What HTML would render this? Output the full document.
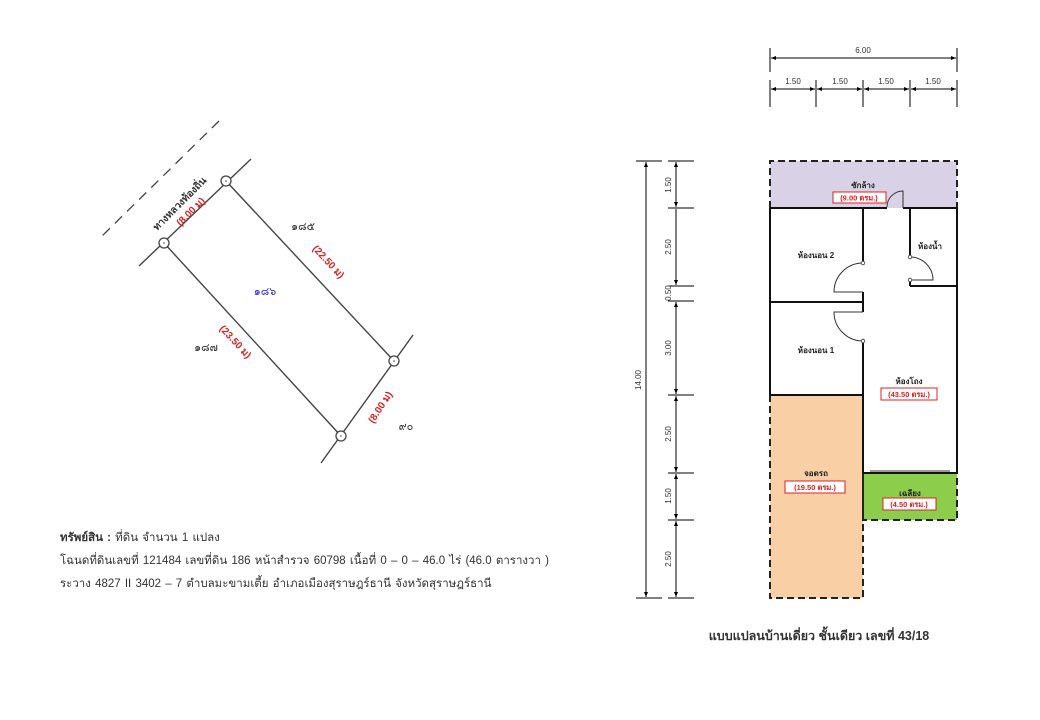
<!DOCTYPE html>
<html><head><meta charset="utf-8"><style>
body{margin:0;background:#fff;width:1040px;height:720px;overflow:hidden}
svg{display:block;font-family:"Liberation Sans","Noto Sans CJK SC",sans-serif}
</style></head><body>
<svg width="1040" height="720" viewBox="0 0 1040 720" xmlns="http://www.w3.org/2000/svg">
<defs>
<marker id="a" viewBox="0 0 10 10" refX="10" refY="5" markerWidth="7" markerHeight="5" orient="auto-start-reverse"><path d="M0,1 L10,5 L0,9 z" fill="#000"/></marker>
</defs>
<!-- plot -->
<line x1="219" y1="121" x2="100" y2="238" stroke="#444" stroke-width="1.3" stroke-dasharray="10,7"/>
<g stroke="#444" stroke-width="1.4" fill="none">
<line x1="251" y1="159" x2="139" y2="266"/>
<line x1="413" y1="335" x2="321" y2="463"/>
<line x1="226" y1="181" x2="394" y2="361"/>
<line x1="164" y1="243" x2="341" y2="436"/>
</g>
<g fill="#fff" stroke="#444" stroke-width="1.3">
<circle cx="226" cy="181" r="5"/><circle cx="164" cy="243" r="5"/><circle cx="394" cy="361" r="5"/><circle cx="341" cy="436" r="5"/>
</g>
<g fill="#444"><circle cx="226" cy="181" r="0.8"/><circle cx="164" cy="243" r="0.8"/><circle cx="394" cy="361" r="0.8"/><circle cx="341" cy="436" r="0.8"/></g>
<g font-size="10" font-weight="bold">
<text x="0" y="0" transform="translate(182,206) rotate(-45)" text-anchor="middle" fill="#333">ทางหลวงท้องถิ่น</text>
<text x="0" y="0" transform="translate(193,214) rotate(-45)" text-anchor="middle" fill="#e02020">(8.00 ม)</text>
<text x="0" y="0" transform="translate(326,264) rotate(47)" text-anchor="middle" fill="#e02020">(22.50 ม)</text>
<text x="0" y="0" transform="translate(233,344) rotate(47)" text-anchor="middle" fill="#e02020">(23.50 ม)</text>
<text x="0" y="0" transform="translate(383,409) rotate(-57)" text-anchor="middle" fill="#e02020">(8.00 ม)</text>
</g>
<g font-size="11" fill="#333">
<text x="303" y="230" text-anchor="middle">๑๘๕</text>
<text x="265" y="295" text-anchor="middle" fill="#3030d0">๑๘๖</text>
<text x="206" y="351" text-anchor="middle">๑๘๗</text>
<text x="406" y="430" text-anchor="middle">๙๐</text>
</g>
<g font-size="11.5" fill="#333" word-spacing="1">
<text x="60" y="541"><tspan font-weight="bold">ทรัพย์สิน  :</tspan>  ที่ดิน จำนวน 1 แปลง</text>
<text x="60" y="564">โฉนดที่ดินเลขที่  121484  เลขที่ดิน  186  หน้าสำรวจ  60798  เนื้อที่  0 – 0 – 46.0 ไร่ (46.0 ตารางวา )</text>
<text x="60" y="587">ระวาง  4827 II 3402 – 7   ตำบลมะขามเตี้ย  อำเภอเมืองสุราษฎร์ธานี  จังหวัดสุราษฎร์ธานี</text>
</g>
<!-- dimensions top -->
<g stroke="#000" stroke-width="1">
<line x1="770" y1="48" x2="770" y2="72"/><line x1="957" y1="48" x2="957" y2="72"/>
<line x1="771" y1="58" x2="956" y2="58" marker-start="url(#a)" marker-end="url(#a)"/>
<line x1="770" y1="80" x2="770" y2="107"/><line x1="816" y1="80" x2="816" y2="107"/><line x1="863" y1="80" x2="863" y2="107"/><line x1="910" y1="80" x2="910" y2="107"/><line x1="957" y1="80" x2="957" y2="107"/>
<line x1="771" y1="89" x2="815" y2="89" marker-start="url(#a)" marker-end="url(#a)"/>
<line x1="817" y1="89" x2="862" y2="89" marker-start="url(#a)" marker-end="url(#a)"/>
<line x1="864" y1="89" x2="909" y2="89" marker-start="url(#a)" marker-end="url(#a)"/>
<line x1="911" y1="89" x2="956" y2="89" marker-start="url(#a)" marker-end="url(#a)"/>
<!-- left -->
<line x1="636" y1="161" x2="662" y2="161"/><line x1="636" y1="598" x2="662" y2="598"/>
<line x1="646" y1="162" x2="646" y2="597" marker-start="url(#a)" marker-end="url(#a)"/>
<line x1="668" y1="161" x2="694" y2="161"/><line x1="668" y1="208" x2="694" y2="208"/><line x1="668" y1="286" x2="694" y2="286"/><line x1="668" y1="301" x2="694" y2="301"/><line x1="668" y1="395" x2="694" y2="395"/><line x1="668" y1="473" x2="694" y2="473"/><line x1="668" y1="520" x2="694" y2="520"/><line x1="668" y1="598" x2="694" y2="598"/>
<line x1="676" y1="162" x2="676" y2="207" marker-start="url(#a)" marker-end="url(#a)"/>
<line x1="676" y1="209" x2="676" y2="285" marker-end="url(#a)"/>
<line x1="676" y1="302" x2="676" y2="394" marker-start="url(#a)" marker-end="url(#a)"/>
<line x1="676" y1="396" x2="676" y2="472" marker-start="url(#a)" marker-end="url(#a)"/>
<line x1="676" y1="474" x2="676" y2="519" marker-start="url(#a)" marker-end="url(#a)"/>
<line x1="676" y1="521" x2="676" y2="597" marker-start="url(#a)" marker-end="url(#a)"/>
</g>
<g font-size="8" fill="#333" text-anchor="middle">
<text x="863" y="53">6.00</text>
<text x="793" y="84">1.50</text><text x="840" y="84">1.50</text><text x="886" y="84">1.50</text><text x="933" y="84">1.50</text>
<text transform="translate(671,185) rotate(-90)">1.50</text>
<text transform="translate(671,247) rotate(-90)">2.50</text>
<text transform="translate(671,293) rotate(-90)">0.50</text>
<text transform="translate(671,348) rotate(-90)">3.00</text>
<text transform="translate(671,434) rotate(-90)">2.50</text>
<text transform="translate(671,496) rotate(-90)">1.50</text>
<text transform="translate(671,559) rotate(-90)">2.50</text>
<text transform="translate(641,380) rotate(-90)">14.00</text>
</g>
<!-- rooms -->
<rect x="770" y="161" width="187" height="47" fill="#d9d2e6"/>
<rect x="770" y="395" width="93" height="203" fill="#f9cfa6"/>
<rect x="863" y="473" width="94" height="47" fill="#8ccd4c"/>
<g stroke="#222" stroke-width="2" fill="none" stroke-dasharray="7,4">
<polyline points="770,208 770,161 957,161 957,208"/>
<polyline points="770,395 770,598 863,598 863,395"/>
<polyline points="863,473 863,520 957,520 957,473"/>
</g>
<g stroke="#111" stroke-width="2" fill="none">
<line x1="770" y1="208" x2="887" y2="208"/><line x1="903" y1="208" x2="957" y2="208"/>
<line x1="770" y1="208" x2="770" y2="395"/>
<line x1="957" y1="208" x2="957" y2="473"/>
<line x1="863" y1="208" x2="863" y2="263"/>
<line x1="910" y1="208" x2="910" y2="257"/>
<line x1="910" y1="286" x2="957" y2="286"/>
<line x1="910" y1="280" x2="910" y2="286"/>
<line x1="770" y1="302" x2="863" y2="302"/>
<line x1="863" y1="292" x2="863" y2="312"/>
<line x1="863" y1="341" x2="863" y2="473"/>
<line x1="770" y1="395" x2="863" y2="395"/>
<line x1="863" y1="473" x2="957" y2="473"/>
</g>
<g stroke="#333" stroke-width="1" fill="none">
<path d="M903,208 L903,191 A16,16 0 0 0 887,207"/>
<path d="M863,263 A29,29 0 0 0 834,292 L863,292"/>
<path d="M863,341 A29,29 0 0 1 834,312 L863,312"/>
<path d="M910,257 A23,23 0 0 1 933,280 L910,280"/>
<line x1="870" y1="471" x2="950" y2="471"/>
</g>
<g fill="#fff" stroke="#333" stroke-width="0.8">
<circle cx="863" cy="263" r="1.8"/><circle cx="863" cy="341" r="1.8"/><circle cx="910" cy="257" r="1.8"/><circle cx="910" cy="280" r="1.8"/>
</g>
<g font-size="8" font-weight="bold" fill="#222" text-anchor="middle">
<text x="863" y="188">ซักล้าง</text>
<text x="816" y="258">ห้องนอน 2</text>
<text x="930" y="249">ห้องน้ำ</text>
<text x="816" y="353">ห้องนอน 1</text>
<text x="909" y="384">ห้องโถง</text>
<text x="816" y="476">จอดรถ</text>
<text x="910" y="496">เฉลียง</text>
</g>
<g fill="#fff" stroke="#e02020" stroke-width="1">
<rect x="833" y="192" width="53" height="11"/>
<rect x="881" y="388" width="56" height="12"/>
<rect x="785" y="481" width="60" height="12"/>
<rect x="883" y="498" width="53" height="12"/>
</g>
<g font-size="7.5" font-weight="bold" fill="#e02020" text-anchor="middle">
<text x="859" y="200.5">(9.00 ตรม.)</text>
<text x="909" y="397">(43.50 ตรม.)</text>
<text x="815" y="490">(19.50 ตรม.)</text>
<text x="909" y="507">(4.50 ตรม.)</text>
</g>
<text x="819" y="640" font-size="12.5" font-weight="bold" fill="#333" text-anchor="middle">แบบแปลนบ้านเดี่ยว ชั้นเดียว เลขที่ 43/18</text>
</svg>
</body></html>
